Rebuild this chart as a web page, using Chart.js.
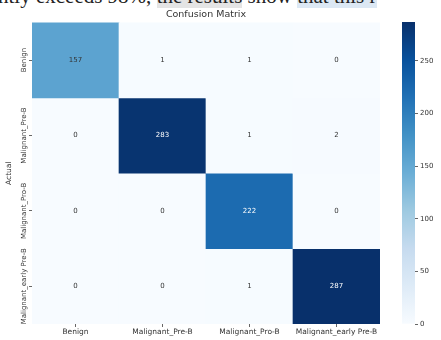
<!DOCTYPE html>
<html>
<head>
<meta charset="utf-8">
<script src="https://cdn.jsdelivr.net/npm/chart.js@4"></script>
<style>
  html,body{margin:0;padding:0;background:#fff;}
  #wrap{position:relative;width:441px;height:340px;overflow:hidden;}
  #snip{position:absolute;left:-2px;top:-14px;white-space:nowrap;font:21px/21px "Liberation Serif",serif;color:#222;}
  #snip .g{background:#e4e4e4;}
  #snip .b{background:#dce8f4;}
  #cm{position:absolute;left:0;top:0;}
  #cb{position:absolute;left:395px;top:0;}
</style>
</head>
<body>
<div id="wrap">
  <div id="snip">ntly exceeds 98%, <span class="g">the results</span> show <span class="b">that this r</span></div>
  <canvas id="cm" width="416" height="340"></canvas>
  <canvas id="cb" width="46" height="340"></canvas>
</div>
<script>
// ── labels / counts ──
const predLabels=['Benign','Malignant_Pre-B','Malignant_Pro-B','Malignant_early Pre-B'];
const actualLabels=['Benign','Malignant_Pre-B','Malignant_Pro-B','Malignant_early Pre-B'];
const rowBenign=[157,1,1,0];
const rowPreB=[0,283,1,2];
const rowProB=[0,0,222,0];
const rowEarly=[0,0,1,287];
const cbTicks=[0,50,100,150,200,250];

const matrix=[rowBenign,rowPreB,rowProB,rowEarly];
const vmax=Math.max(...matrix.flat());

// seaborn "Blues"
const BLUES=['#f7fbff','#deebf7','#c6dbef','#9ecae1','#6baed6','#4292c6','#2171b5','#08519c','#08306b'];
const hex2rgb=h=>[1,3,5].map(i=>parseInt(h.slice(i,i+2),16));
function blues(t){
  t=Math.max(0,Math.min(1,t));
  const p=t*(BLUES.length-1), i=Math.min(Math.floor(p),BLUES.length-2), f=p-i;
  const a=hex2rgb(BLUES[i]), b=hex2rgb(BLUES[i+1]);
  return `rgb(${a.map((x,k)=>Math.round(x+(b[k]-x)*f)).join(',')})`;
}

// cell numbers + rotated row names (centred on each row)
const cellText={
  id:'cellText',
  afterDatasetsDraw(chart){
    const {ctx,scales:{x,y}}=chart;
    ctx.save();
    ctx.font='7px "DejaVu Sans"';
    ctx.textAlign='center';ctx.textBaseline='middle';
    matrix.forEach((row,r)=>row.forEach((val,c)=>{
      ctx.fillStyle=val/vmax>0.55?'#fff':'#333';
      ctx.fillText(String(val),x.getPixelForValue(c),y.getPixelForValue(r+0.5));
    }));
    ctx.fillStyle='#333';
    actualLabels.forEach((lab,r)=>{
      ctx.save();
      ctx.translate(y.right-8,y.getPixelForValue(r+0.5));
      ctx.rotate(-Math.PI/2);
      ctx.fillText(lab,0,0);
      ctx.restore();
    });
    ctx.restore();
  }
};

const tickGrid={display:true,drawOnChartArea:false,drawTicks:true,tickLength:3,color:'#666'};

new Chart(document.getElementById('cm'),{
  type:'bar',
  data:{
    labels:predLabels,
    datasets:matrix.map((row,r)=>({
      label:actualLabels[r],
      data:row.map(()=>[r,r+1]),
      backgroundColor:row.map(v=>blues(v/vmax)),
      borderWidth:0,
      barPercentage:1,categoryPercentage:1,grouped:false
    }))
  },
  options:{
    responsive:false,animation:false,devicePixelRatio:1,
    layout:{padding:{left:5,right:36,top:0,bottom:0}},
    plugins:{
      legend:{display:false},tooltip:{enabled:false},
      title:{display:true,text:'Confusion Matrix',fullSize:false,color:'#333',
        font:{family:'DejaVu Sans',size:9.5,weight:'normal'},padding:{top:9,bottom:2}}
    },
    scales:{
      x:{
        offset:true,
        grid:{...tickGrid,offset:false},
        border:{display:false},
        ticks:{font:{family:'DejaVu Sans',size:7.5},color:'#333',padding:1,maxRotation:0,autoSkip:false},
        afterFit:s=>{s.height=16;}
      },
      y:{
        type:'linear',min:0,max:4,reverse:true,
        afterBuildTicks:s=>{s.ticks=actualLabels.map((_,i)=>({value:i+0.5}));},
        grid:tickGrid,
        border:{display:false},
        ticks:{display:false},
        title:{display:true,text:'Actual',color:'#333',font:{family:'DejaVu Sans',size:7.5},padding:0},
        afterFit:s=>{s.width=27;}
      }
    }
  },
  plugins:[cellText]
});

// colour bar
new Chart(document.getElementById('cb'),{
  type:'bar',
  data:{
    labels:[''],
    datasets:[{
      data:[[0,vmax]],
      backgroundColor:c=>{
        const {chartArea,ctx}=c.chart;
        if(!chartArea) return BLUES[4];
        const g=ctx.createLinearGradient(0,chartArea.bottom,0,chartArea.top);
        BLUES.forEach((col,i)=>g.addColorStop(i/(BLUES.length-1),col));
        return g;
      },
      borderWidth:0,barPercentage:1,categoryPercentage:1
    }]
  },
  options:{
    responsive:false,animation:false,devicePixelRatio:1,
    layout:{padding:{left:7,right:0,top:22,bottom:16}},
    plugins:{legend:{display:false},tooltip:{enabled:false}},
    scales:{
      x:{display:false},
      y:{
        position:'right',min:0,max:vmax,
        afterBuildTicks:s=>{s.ticks=cbTicks.map(v=>({value:v}));},
        grid:tickGrid,
        border:{display:false},
        ticks:{font:{family:'DejaVu Sans',size:7},color:'#333',padding:2},
        afterFit:s=>{s.width=26;}
      }
    }
  }
});
</script>
</body>
</html>
